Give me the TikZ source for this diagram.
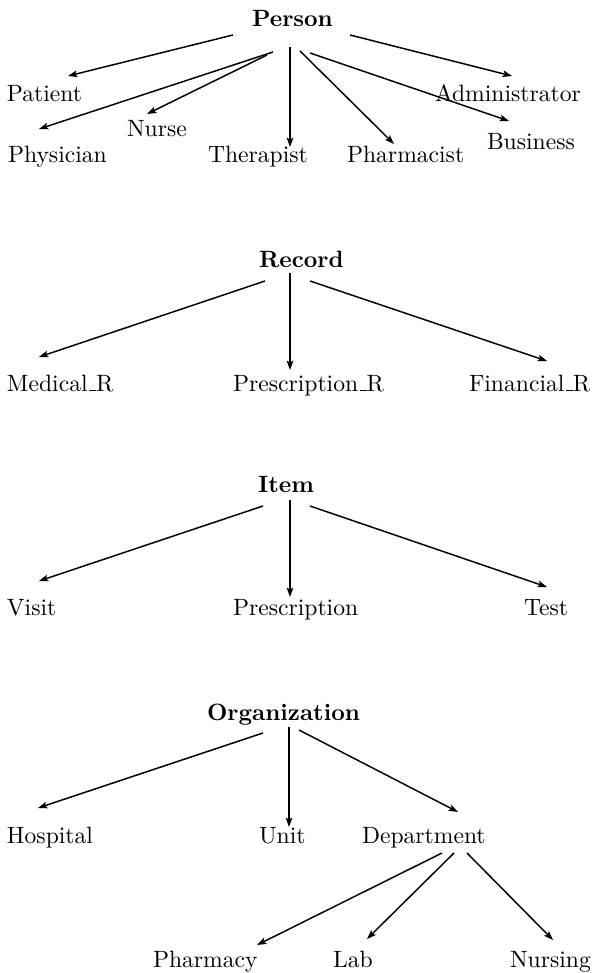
\documentclass[tikz,border=0pt]{standalone}
\usetikzlibrary{arrows.meta,calc}
\newcommand{\shortus}{\leavevmode\kern.06em\vbox{\hrule height.5pt width.3em}}
\tikzset{
  lbl/.style={inner sep=0pt, outer sep=0pt, anchor=base west, scale=1.77, font=\normalsize},
  head/.style={lbl, font=\normalsize\bfseries},
  arr/.style={line width=1.1pt, -{Stealth[length=7pt,width=5pt,inset=1.5pt]}}
}
\begin{document}
\begin{tikzpicture}[x=0.75pt,y=-0.75pt]
\useasboundingbox (0,0) rectangle (592,973);
% ---------- Person ----------
\node[head] (person) at (252,27) {Person};
\node[lbl] (patient) at (7,102) {Patient};
\node[lbl] (physician) at (8,163) {Physician};
\node[lbl] (nurse) at (127,137) {Nurse};
\node[lbl] (therapist) at (208,163) {Therapist};
\node[lbl] (pharmacist) at (347,163) {Pharmacist};
\node[lbl] (admin) at (435,102) {Administrator};
\node[lbl] (business) at (487,150) {Business};
\draw[arr] ($(person.base west)+(-19,8)$) -- ($(patient.base west)+(61,-26)$);
\draw[arr] ($(person.base west)+(21,25)$) -- ($(physician.base west)+(31,-34)$);
\draw[arr] ($(person.base west)+(15,28)$) -- ($(nurse.base west)+(20,-23)$);
\draw[arr] ($(person.base west)+(38,20)$) -- ($(therapist.base west)+(82,-16)$);
\draw[arr] ($(person.base west)+(48,24)$) -- ($(pharmacist.base west)+(47,-19)$);
\draw[arr] ($(person.base west)+(98,8)$) -- ($(admin.base west)+(77,-26)$);
\draw[arr] ($(person.base west)+(58,26)$) -- ($(business.base west)+(22,-29)$);
% ---------- Record ----------
\node[head] (record) at (259,268) {Record};
\node[lbl] (medr) at (7,391) {Medical\shortus R};
\node[lbl] (presr) at (233,391) {Prescription\shortus R};
\node[lbl] (finr) at (469,391) {Financial\shortus R};
\draw[arr] ($(record.base west)+(6,13)$) -- ($(medr.base west)+(32,-34)$);
\draw[arr] ($(record.base west)+(31,5)$) -- ($(presr.base west)+(57,-21)$);
\draw[arr] ($(record.base west)+(51,13)$) -- ($(finr.base west)+(78,-30)$);
% ---------- Item ----------
\node[head] (item) at (258,492) {Item};
\node[lbl] (visit) at (7,615) {Visit};
\node[lbl] (presc) at (233,615) {Prescription};
\node[lbl] (test) at (524,615) {Test};
\draw[arr] ($(item.base west)+(5,14)$) -- ($(visit.base west)+(32,-34)$);
\draw[arr] ($(item.base west)+(32,8)$) -- ($(presc.base west)+(57,-18)$);
\draw[arr] ($(item.base west)+(52,14)$) -- ($(test.base west)+(23,-28)$);
% ---------- Organization ----------
\node[head] (org) at (207,720) {Organization};
\node[lbl] (hospital) at (7,843) {Hospital};
\node[lbl] (unit) at (259,843) {Unit};
\node[lbl] (dept) at (362,843) {Department};
\draw[arr] ($(org.base west)+(56,13)$) -- ($(hospital.base west)+(31,-35)$);
\draw[arr] ($(org.base west)+(82,7)$) -- ($(unit.base west)+(30,-16)$);
\draw[arr] ($(org.base west)+(92,10)$) -- ($(dept.base west)+(96,-31)$);
% ---------- Department ----------
\node[lbl] (pharmacy) at (153,967) {Pharmacy};
\node[lbl] (lab) at (333,967) {Lab};
\node[lbl] (nursing) at (510,967) {Nursing};
\draw[arr] ($(dept.base west)+(80,10)$) -- ($(pharmacy.base west)+(104,-22)$);
\draw[arr] ($(dept.base west)+(92,10)$) -- ($(lab.base west)+(34,-28)$);
\draw[arr] ($(dept.base west)+(105,10)$) -- ($(nursing.base west)+(43,-27)$);
\end{tikzpicture}
\end{document}
